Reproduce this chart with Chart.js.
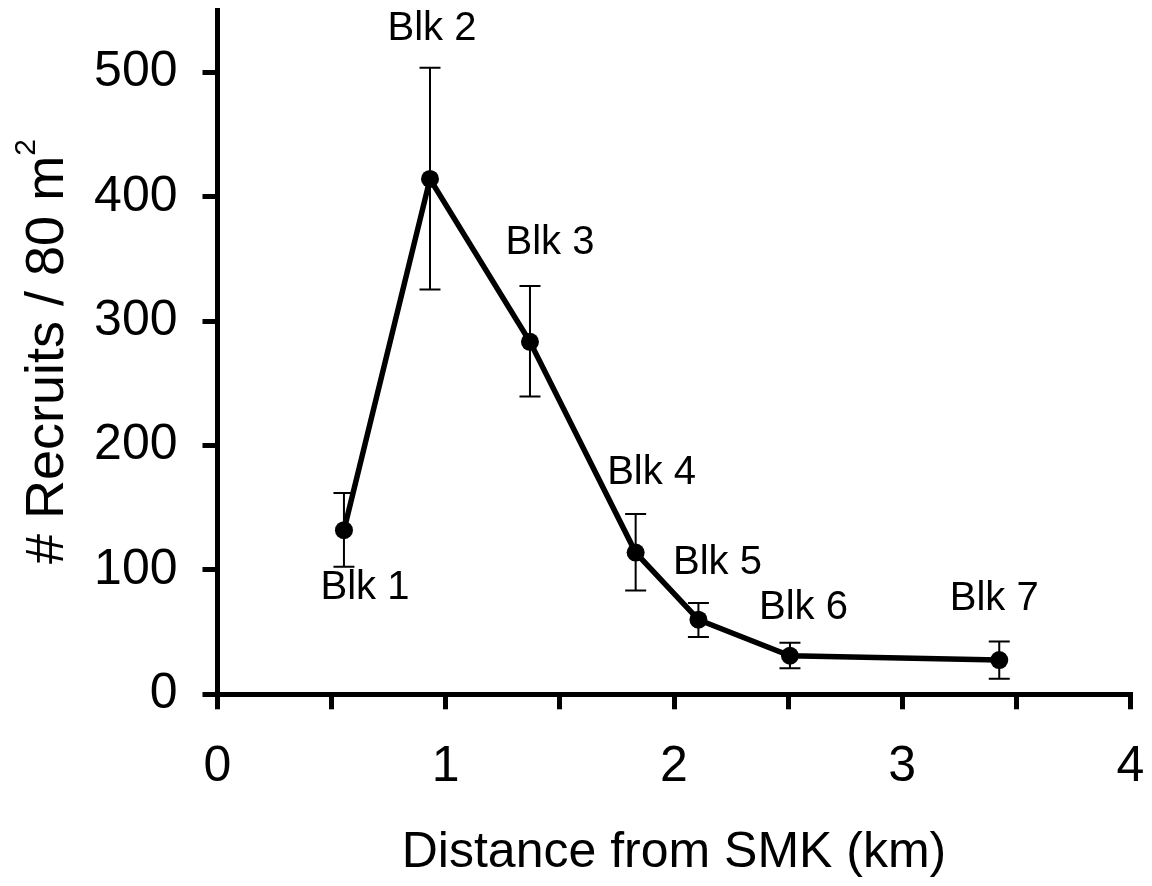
<!DOCTYPE html>
<html>
<head>
<meta charset="utf-8">
<style>
  html, body { margin: 0; padding: 0; background: #ffffff; }
  #wrap { width: 1152px; height: 886px; }
  canvas { display: block; }
</style>
<script src="https://cdn.jsdelivr.net/npm/chart.js@4/dist/chart.umd.min.js"></script>
</head>
<body>
<div id="wrap"><canvas id="chart" width="1152" height="886"></canvas></div>
<script>
// Recruit density by block along the distance gradient
const blocks = ['Blk 1', 'Blk 2', 'Blk 3', 'Blk 4', 'Blk 5', 'Blk 6', 'Blk 7'];
const distanceKm = [0.554, 0.931, 1.369, 1.832, 2.107, 2.508, 3.425];
const recruits = [132, 414.5, 283.5, 114, 60, 31, 27.5];
const errUpper = [162, 504, 328.5, 145, 73.5, 41.5, 42.5];
const errLower = [102.5, 325.5, 239.5, 83.5, 46, 21, 12.5];
const xTicks = [0, 0.5, 1, 1.5, 2, 2.5, 3, 3.5, 4];
const yTicks = [0, 100, 200, 300, 400, 500];

const FONT = '"Liberation Sans", Arial, Helvetica, sans-serif';

// pixel offsets of each block label from its point
const labelOffsets = [[21, 58], [2, -150], [20, -99], [16, -80], [19, -57], [13.5, -48], [-5, -61]];

const errorBars = {
  id: 'errorBars',
  beforeDatasetsDraw(chart) {
    const { ctx, scales: { x, y } } = chart;
    ctx.save();
    ctx.strokeStyle = '#000';
    ctx.lineWidth = 2;
    const half = 10.5;
    distanceKm.forEach((d, i) => {
      const px = x.getPixelForValue(d);
      const top = y.getPixelForValue(errUpper[i]);
      const bot = y.getPixelForValue(errLower[i]);
      ctx.beginPath();
      ctx.moveTo(px, top); ctx.lineTo(px, bot);
      ctx.moveTo(px - half, top); ctx.lineTo(px + half, top);
      ctx.moveTo(px - half, bot); ctx.lineTo(px + half, bot);
      ctx.stroke();
    });
    ctx.restore();
  }
};

const blockLabels = {
  id: 'blockLabels',
  afterDatasetsDraw(chart) {
    const { ctx } = chart;
    const meta = chart.getDatasetMeta(0);
    ctx.save();
    ctx.fillStyle = '#000';
    ctx.font = '40px ' + FONT;
    ctx.textAlign = 'center';
    ctx.textBaseline = 'middle';
    meta.data.forEach((pt, i) => {
      const [dx, dy] = labelOffsets[i];
      ctx.fillText(blocks[i], pt.x + dx, pt.y + dy);
    });
    ctx.restore();
  }
};

const yTitle = {
  id: 'yTitle',
  afterDraw(chart) {
    const { ctx } = chart;
    ctx.save();
    ctx.translate(63, 564);
    ctx.rotate(-Math.PI / 2);
    ctx.fillStyle = '#000';
    ctx.textAlign = 'left';
    ctx.textBaseline = 'alphabetic';
    ctx.font = '54px ' + FONT;
    const main = '# Recruits / 80 m';
    ctx.fillText(main, 0, 0);
    const w = ctx.measureText(main).width;
    ctx.font = '30px ' + FONT;
    ctx.fillText('2', w, -28);
    ctx.restore();
  }
};

new Chart(document.getElementById('chart'), {
  type: 'line',
  data: {
    datasets: [{
      data: distanceKm.map((d, i) => ({ x: d, y: recruits[i] })),
      borderColor: '#000',
      backgroundColor: '#000',
      borderWidth: 5.5,
      tension: 0,
      pointRadius: 9,
      pointBackgroundColor: '#000',
      pointBorderWidth: 0,
      fill: false
    }]
  },
  options: {
    responsive: false,
    animation: false,
    events: [],
    layout: { padding: { top: 10.5, right: 21.5, left: 0, bottom: 0 } },
    plugins: { legend: { display: false }, tooltip: { enabled: false } },
    scales: {
      x: {
        type: 'linear',
        min: 0,
        max: 4,
        afterBuildTicks: (s) => { s.ticks = xTicks.map(v => ({ value: v })); },
        afterFit: (s) => { s.height = 191.7; s.paddingLeft = 0; s.paddingRight = 0; },
        border: { display: true, color: '#000', width: 5 },
        grid: { display: true, drawOnChartArea: false, drawTicks: true, tickLength: 15, tickWidth: 5, tickColor: '#000', lineWidth: 5, color: '#000' },
        ticks: {
          autoSkip: false,
          maxRotation: 0,
          padding: 28,
          color: '#000',
          font: { family: FONT, size: 50 },
          callback: (v) => Number.isInteger(v) ? String(v) : ''
        },
        title: {
          display: true,
          text: 'Distance from SMK (km)',
          color: '#000',
          font: { family: FONT, size: 50 },
          padding: { top: 0, bottom: 3 }
        }
      },
      y: {
        type: 'linear',
        min: 0,
        max: 550,
        afterBuildTicks: (s) => { s.ticks = yTicks.map(v => ({ value: v })); },
        afterFit: (s) => { s.width = 217.5; s.paddingTop = 0; s.paddingBottom = 0; },
        border: { display: true, color: '#000', width: 5 },
        grid: { display: true, drawOnChartArea: false, drawTicks: true, tickLength: 15, tickWidth: 5, tickColor: '#000', lineWidth: 5, color: '#000' },
        ticks: {
          autoSkip: false,
          padding: 25,
          color: '#000',
          font: { family: FONT, size: 50 }
        },
        title: { display: false }
      }
    }
  },
  plugins: [errorBars, blockLabels, yTitle]
});
</script>
</body>
</html>
